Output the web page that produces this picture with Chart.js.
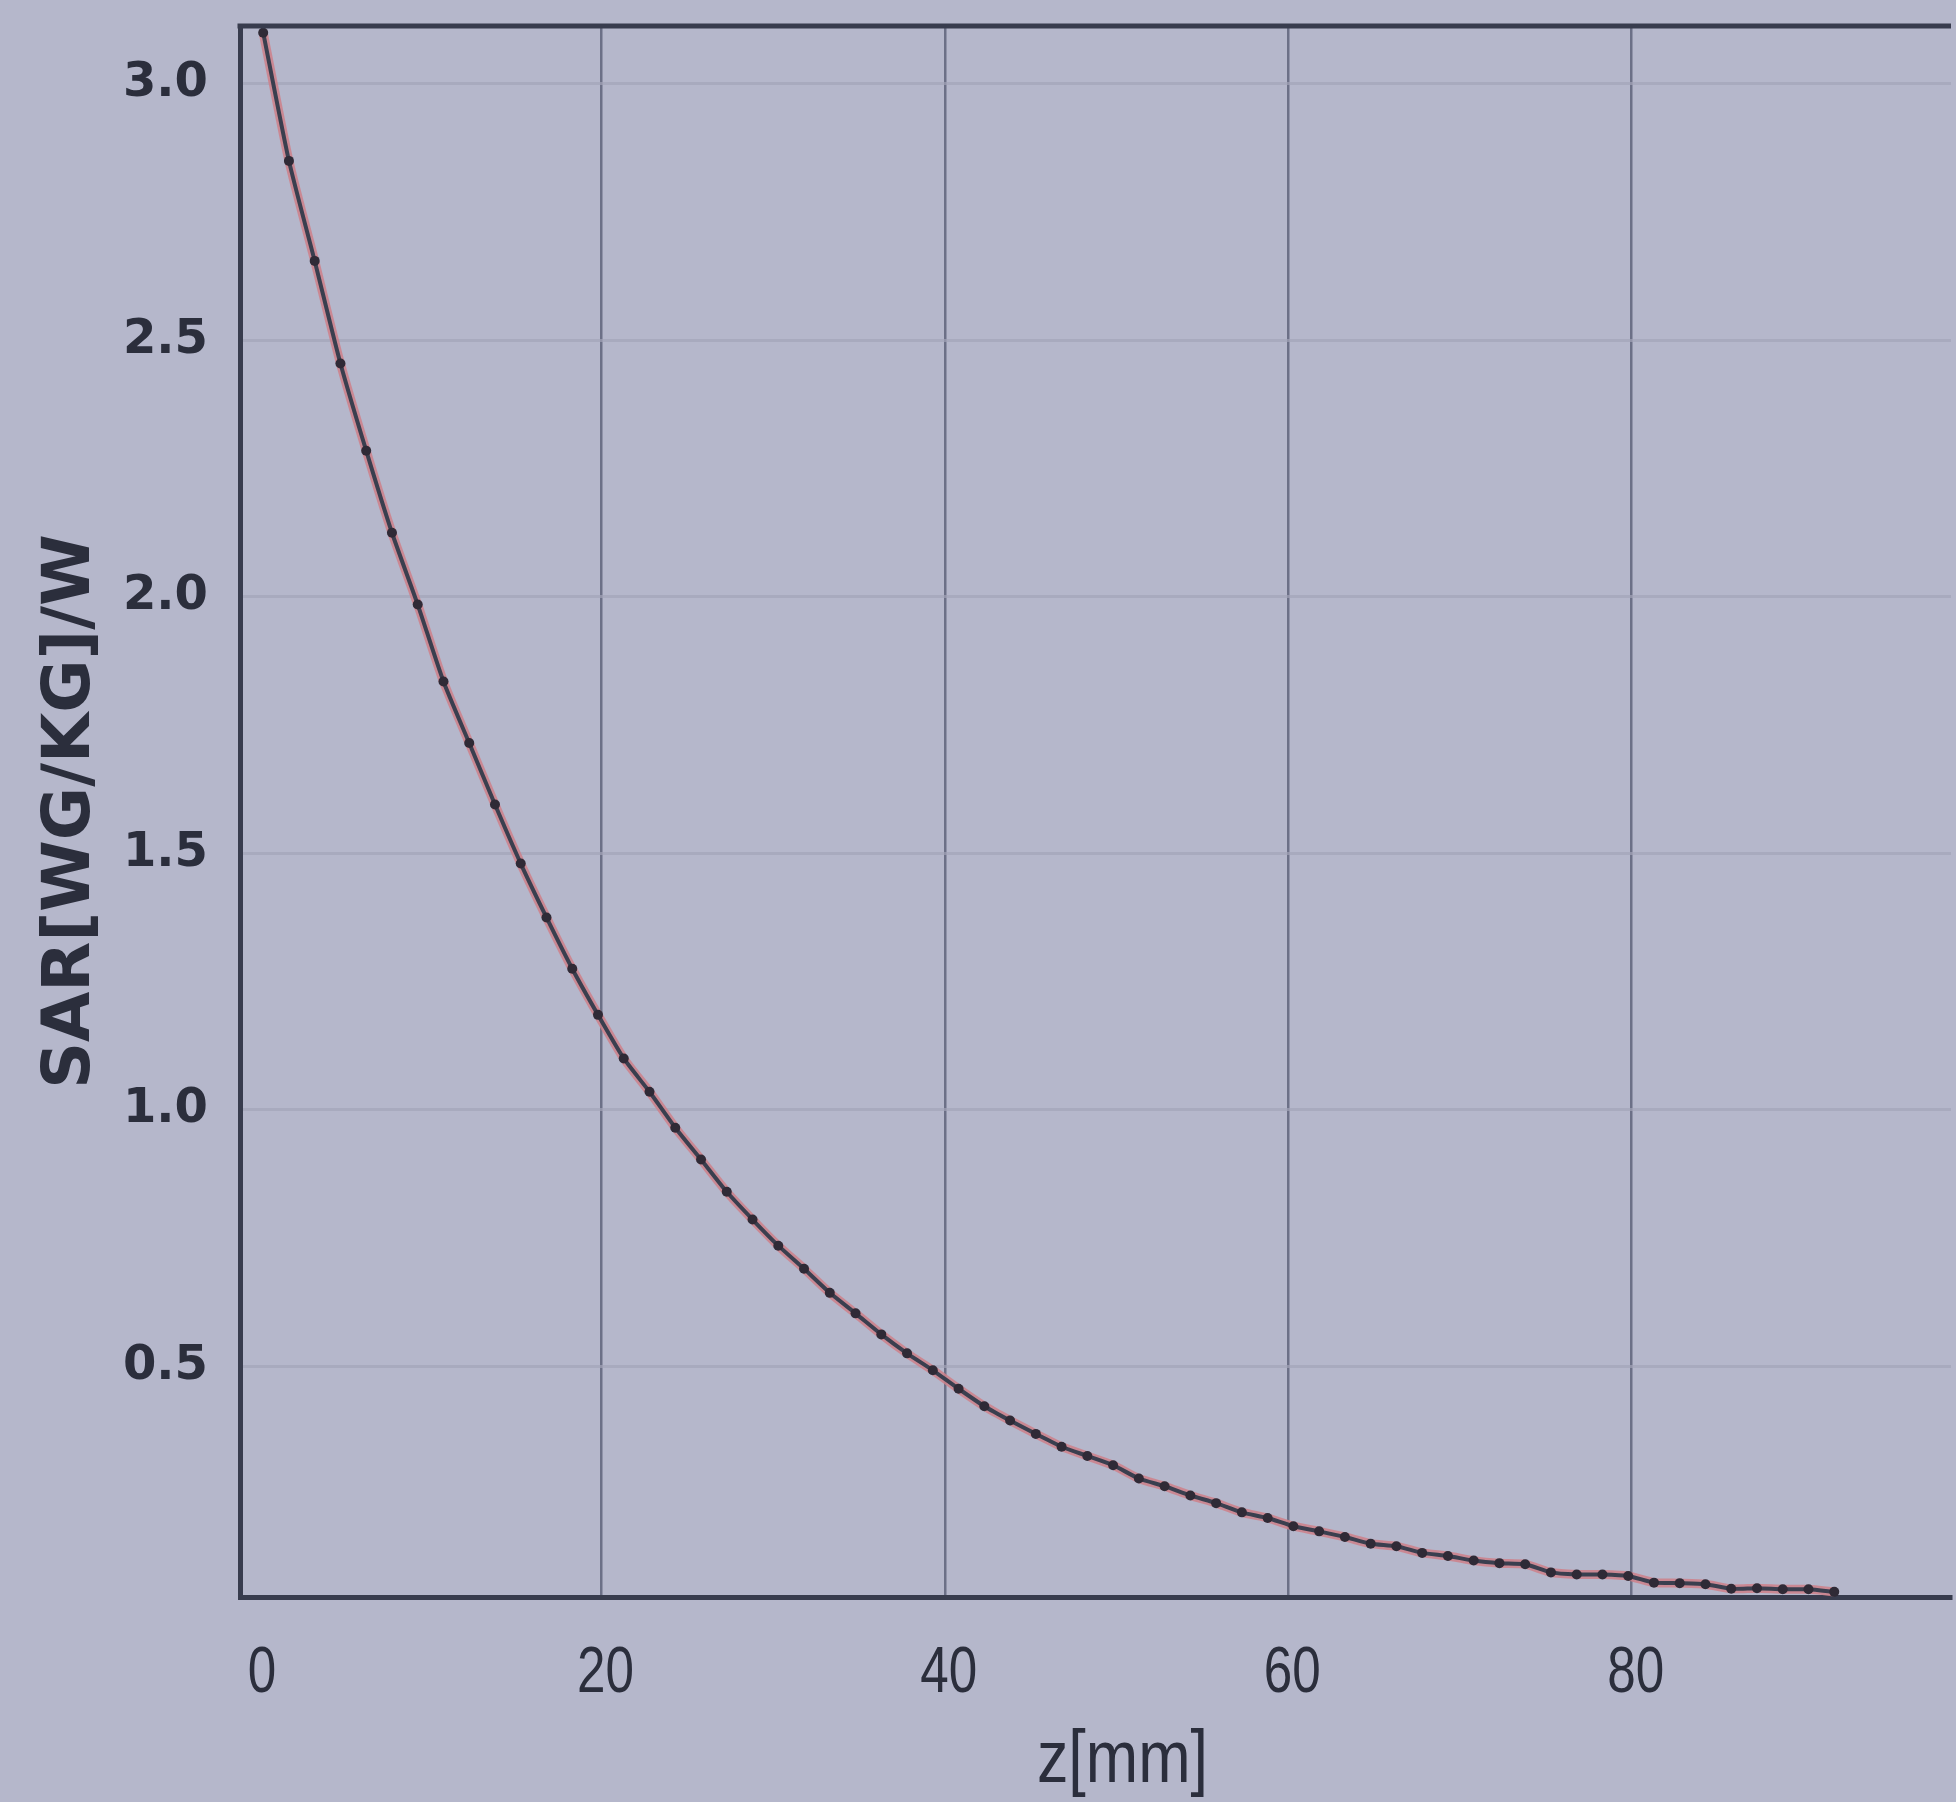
<!DOCTYPE html>
<html>
<head>
<meta charset="utf-8">
<title>SAR z-scan</title>
<script src="https://cdn.jsdelivr.net/npm/chart.js"></script>
<style>
  html, body { margin: 0; padding: 0; background: #b5b7cb; }
  #chart { display: block; }
</style>
</head>
<body>
<canvas id="chart" width="1956" height="1802"></canvas>
<script>
// z positions of the measured points (mm)
const zValues = [
  0.3, 1.8, 3.3, 4.8, 6.3, 7.8, 9.3, 10.8, 12.3, 13.8,
  15.3, 16.8, 18.3, 19.8, 21.3, 22.8, 24.3, 25.8, 27.3, 28.8,
  30.3, 31.8, 33.3, 34.8, 36.3, 37.8, 39.3, 40.8, 42.3, 43.8,
  45.3, 46.8, 48.3, 49.8, 51.3, 52.8, 54.3, 55.8, 57.3, 58.8,
  60.3, 61.8, 63.3, 64.8, 66.3, 67.8, 69.3, 70.8, 72.3, 73.8,
  75.3, 76.8, 78.3, 79.8, 81.3, 82.8, 84.3, 85.8, 87.3, 88.8,
  90.3, 91.8
];

// SAR [W/kg] / W
const sarValues = [
  3.10, 2.85, 2.655, 2.455, 2.285, 2.125, 1.985, 1.835, 1.715, 1.595,
  1.48, 1.375, 1.275, 1.185, 1.10, 1.035, 0.965, 0.903, 0.84, 0.786,
  0.735, 0.69, 0.643, 0.603, 0.562, 0.525, 0.492, 0.456, 0.422, 0.394,
  0.368, 0.343, 0.325, 0.307, 0.281, 0.266, 0.248, 0.233, 0.215, 0.204,
  0.188, 0.178, 0.167, 0.154, 0.149, 0.136, 0.13, 0.121, 0.116, 0.114,
  0.098, 0.094, 0.094, 0.091, 0.078, 0.077, 0.075, 0.066, 0.067, 0.065,
  0.065, 0.06
];

const xTicks = [0, 20, 40, 60, 80];
const yTicks = [0.5, 1.0, 1.5, 2.0, 2.5, 3.0];

const xTitle = "z[mm]";
const yTitle = "SAR[WG/KG]/W";

let points = zValues.map((z, i) => ({x: z, y: sarValues[i]}));

const textColor = "#2b2e3c";
const frameColor = "#383c4e";

// frame line along the top of the plot area
const topFrame = {
  id: "topFrame",
  afterDraw(chart){
    let {ctx, chartArea} = chart;
    ctx.save();
    ctx.strokeStyle = frameColor;
    ctx.lineWidth = 5;
    ctx.beginPath();
    ctx.moveTo(chartArea.left - 2.5, chartArea.top);
    ctx.lineTo(chartArea.right, chartArea.top);
    ctx.stroke();
    ctx.restore();
  }
};

// the x labels in the original are set in a narrow face, so squeeze them
const narrowXLabels = {
  id: "narrowXLabels",
  afterDraw(chart){
    let {ctx, chartArea} = chart;
    let x = chart.scales.x;
    ctx.save();
    ctx.fillStyle = textColor;
    ctx.textAlign = "center";
    ctx.textBaseline = "middle";
    ctx.font = '64px "Liberation Sans"';
    xTicks.forEach((v) => {
      ctx.save();
      ctx.translate(x.getPixelForValue(v) + 4, chartArea.bottom + 77);
      ctx.scale(0.8, 1);
      ctx.fillText(String(v), 0, 0);
      ctx.restore();
    });
    ctx.font = '74px "Liberation Sans"';
    ctx.translate((chartArea.left + chartArea.right) / 2 + 27, chartArea.bottom + 165);
    ctx.scale(0.85, 1);
    ctx.fillText(xTitle, 0, 0);
    ctx.restore();
  }
};

let ctx = document.getElementById("chart").getContext("2d");
new Chart(ctx, {
  type: "line",
  data: {
    datasets: [
      {
        data: points,
        borderColor: "#3a3f4f",
        borderWidth: 4,
        pointRadius: 5,
        pointBackgroundColor: "#2f2a36",
        pointBorderColor: "#2f2a36",
        pointBorderWidth: 0,
        tension: 0.2
      },
      {
        data: points,
        borderColor: "rgba(206,128,138,0.85)",
        borderWidth: 9,
        pointRadius: 0,
        tension: 0.2
      }
    ]
  },
  options: {
    responsive: false,
    animation: false,
    layout: {padding: {top: 26, left: 0, right: 0, bottom: 0}},
    plugins: {legend: {display: false}, tooltip: {enabled: false}},
    scales: {
      x: {
        type: "linear",
        min: -1.05,
        max: 98.6,
        afterBuildTicks: (scale) => { scale.ticks = xTicks.map((v) => ({value: v})); },
        afterFit: (scale) => {
          scale.height = 205;
          scale.paddingLeft = 0;
          scale.paddingRight = 0;
        },
        ticks: {display: false},
        grid: {
          drawTicks: false,
          color: (c) => c.tick && c.tick.value === 0 ? "rgba(0,0,0,0)" : "#6c7087",
          lineWidth: 2.5
        },
        border: {display: true, color: frameColor, width: 5}
      },
      y: {
        type: "linear",
        min: 0.05,
        max: 3.113,
        afterBuildTicks: (scale) => { scale.ticks = yTicks.map((v) => ({value: v})); },
        afterFit: (scale) => {
          scale.width = 240;
          scale.paddingTop = 0;
          scale.paddingBottom = 0;
        },
        ticks: {
          padding: 32,
          color: textColor,
          font: {family: "DejaVu Sans", size: 48, weight: "bold"},
          callback: (v) => v.toFixed(1)
        },
        grid: {
          drawTicks: false,
          color: "rgba(162,164,184,0.7)",
          lineWidth: 3
        },
        border: {display: true, color: frameColor, width: 5},
        title: {
          display: true,
          text: yTitle,
          color: textColor,
          font: {family: "DejaVu Sans", size: 65, weight: "bold", lineHeight: 1},
          padding: {top: 40, bottom: 0}
        }
      }
    }
  },
  plugins: [topFrame, narrowXLabels]
});
</script>
</body>
</html>
